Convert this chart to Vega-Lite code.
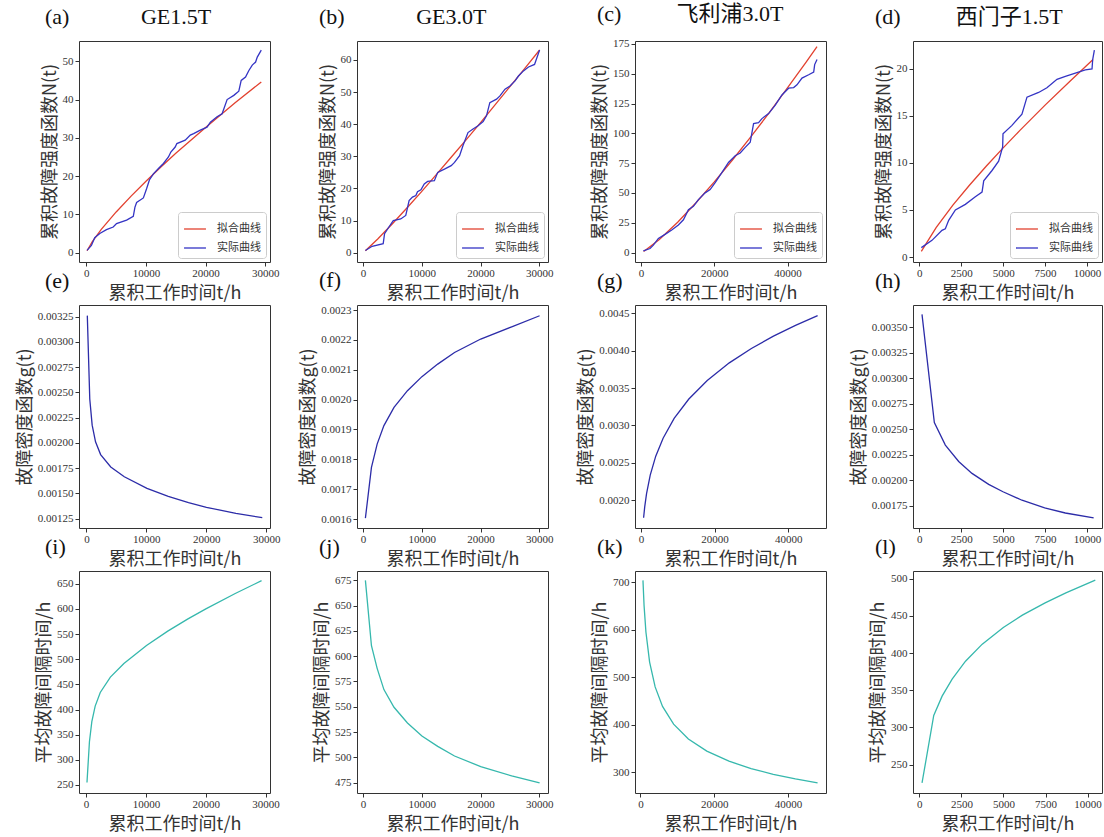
{
  "$schema": "https://vega.github.io/schema/vega-lite/v6.json",
  "background": "white",
  "padding": {"left": 15, "top": 2, "right": 2, "bottom": 2},
  "bounds": "flush",
  "columns": 4,
  "spacing": {"row": 43, "column": 87},
  "resolve": {"scale": {"color": "independent"}, "legend": {"color": "independent"}},
  "config": {
    "view": {"stroke": "#333333", "strokeWidth": 1},
    "axis": {"domain": false, "grid": false, "tickColor": "#333333", "tickSize": 4, "labelFont": "Liberation Serif", "labelFontSize": 11, "labelColor": "#333333", "labelPadding": 2, "titleFont": "Noto Sans CJK SC", "titleFontSize": 18, "titleFontWeight": "normal", "titleColor": "#333333", "titlePadding": 3, "labelFlush": false, "labelOverlap": false},
    "axisX": {"titlePadding": 6, "labelPadding": 1},
    "title": {"font": "Liberation Serif, Noto Sans CJK SC", "fontSize": 22, "fontWeight": "normal", "color": "#111111", "anchor": "start", "frame": "group", "offset": 12, "baseline": "alphabetic"},
    "line": {"strokeWidth": 1.3}
  },
  "datasets": {
    "a": [
      {"t": 112, "N": 0.49, "s": "拟合曲线"}, {"t": 1000, "N": 2.89, "s": "拟合曲线"}, {"t": 2500, "N": 6.07, "s": "拟合曲线"}, {"t": 5000, "N": 10.64, "s": "拟合曲线"}, {"t": 7500, "N": 14.78, "s": "拟合曲线"}, {"t": 10000, "N": 18.66, "s": "拟合曲线"}, {"t": 12500, "N": 22.37, "s": "拟合曲线"}, {"t": 15000, "N": 25.95, "s": "拟合曲线"}, {"t": 20000, "N": 32.7, "s": "拟合曲线"}, {"t": 25000, "N": 39.2, "s": "拟合曲线"}, {"t": 29340, "N": 44.6, "s": "拟合曲线"},
      {"t": 112, "N": 0.6, "s": "实际曲线"}, {"t": 843, "N": 1.9, "s": "实际曲线"}, {"t": 1400, "N": 3.9, "s": "实际曲线"}, {"t": 2250, "N": 5.0, "s": "实际曲线"}, {"t": 3370, "N": 6.0, "s": "实际曲线"}, {"t": 4500, "N": 6.7, "s": "实际曲线"}, {"t": 5060, "N": 7.6, "s": "实际曲线"}, {"t": 6750, "N": 8.5, "s": "实际曲线"}, {"t": 7870, "N": 9.5, "s": "实际曲线"}, {"t": 8150, "N": 11.9, "s": "实际曲线"}, {"t": 8430, "N": 13.1, "s": "实际曲线"}, {"t": 9560, "N": 14.3, "s": "实际曲线"}, {"t": 10100, "N": 16.7, "s": "实际曲线"}, {"t": 10570, "N": 19.0, "s": "实际曲线"}, {"t": 11240, "N": 20.6, "s": "实际曲线"}, {"t": 12090, "N": 22.0, "s": "实际曲线"}, {"t": 12930, "N": 23.3, "s": "实际曲线"}, {"t": 13770, "N": 25.0, "s": "实际曲线"}, {"t": 14170, "N": 26.3, "s": "实际曲线"}, {"t": 14900, "N": 27.6, "s": "实际曲线"}, {"t": 15180, "N": 28.5, "s": "实际曲线"}, {"t": 16580, "N": 29.4, "s": "实际曲线"}, {"t": 17430, "N": 30.7, "s": "实际曲线"}, {"t": 17990, "N": 31.1, "s": "实际曲线"}, {"t": 19110, "N": 32.0, "s": "实际曲线"}, {"t": 20240, "N": 32.8, "s": "实际曲线"}, {"t": 20800, "N": 34.1, "s": "实际曲线"}, {"t": 21920, "N": 35.5, "s": "实际曲线"}, {"t": 22770, "N": 36.3, "s": "实际曲线"}, {"t": 23610, "N": 40.0, "s": "实际曲线"}, {"t": 24730, "N": 41.1, "s": "实际曲线"}, {"t": 25570, "N": 42.2, "s": "实际曲线"}, {"t": 25970, "N": 45.0, "s": "实际曲线"}, {"t": 26700, "N": 45.9, "s": "实际曲线"}, {"t": 27260, "N": 47.6, "s": "实际曲线"}, {"t": 27830, "N": 49.0, "s": "实际曲线"}, {"t": 28390, "N": 49.8, "s": "实际曲线"}, {"t": 28670, "N": 51.1, "s": "实际曲线"}, {"t": 29340, "N": 52.9, "s": "实际曲线"}
    ],
    "b": [
      {"t": 400, "N": 0.58, "s": "拟合曲线"}, {"t": 2500, "N": 4.24, "s": "拟合曲线"}, {"t": 5000, "N": 9.0, "s": "拟合曲线"}, {"t": 7500, "N": 13.97, "s": "拟合曲线"}, {"t": 10000, "N": 19.1, "s": "拟合曲线"}, {"t": 12500, "N": 24.37, "s": "拟合曲线"}, {"t": 15000, "N": 29.7, "s": "拟合曲线"}, {"t": 17500, "N": 35.06, "s": "拟合曲线"}, {"t": 20000, "N": 40.5, "s": "拟合曲线"}, {"t": 22500, "N": 46.07, "s": "拟合曲线"}, {"t": 25000, "N": 51.7, "s": "拟合曲线"}, {"t": 27500, "N": 57.28, "s": "拟合曲线"}, {"t": 30050, "N": 63.1, "s": "拟合曲线"},
      {"t": 400, "N": 0.7, "s": "实际曲线"}, {"t": 1545, "N": 2.0, "s": "实际曲线"}, {"t": 3430, "N": 2.8, "s": "实际曲线"}, {"t": 3660, "N": 5.9, "s": "实际曲线"}, {"t": 4400, "N": 8.0, "s": "实际曲线"}, {"t": 5150, "N": 10.0, "s": "实际曲线"}, {"t": 6410, "N": 10.5, "s": "实际曲线"}, {"t": 7270, "N": 11.6, "s": "实际曲线"}, {"t": 7840, "N": 16.2, "s": "实际曲线"}, {"t": 8410, "N": 17.3, "s": "实际曲线"}, {"t": 8990, "N": 17.8, "s": "实际曲线"}, {"t": 9270, "N": 19.0, "s": "实际曲线"}, {"t": 9850, "N": 19.6, "s": "实际曲线"}, {"t": 10420, "N": 21.4, "s": "实际曲线"}, {"t": 10990, "N": 22.2, "s": "实际曲线"}, {"t": 12140, "N": 22.4, "s": "实际曲线"}, {"t": 12710, "N": 25.0, "s": "实际曲线"}, {"t": 13850, "N": 26.0, "s": "实际曲线"}, {"t": 15000, "N": 27.1, "s": "实际曲线"}, {"t": 15570, "N": 28.1, "s": "实际曲线"}, {"t": 16430, "N": 30.2, "s": "实际曲线"}, {"t": 17000, "N": 33.3, "s": "实际曲线"}, {"t": 17860, "N": 37.4, "s": "实际曲线"}, {"t": 18720, "N": 38.5, "s": "实际曲线"}, {"t": 19580, "N": 39.5, "s": "实际曲线"}, {"t": 20440, "N": 40.8, "s": "实际曲线"}, {"t": 21010, "N": 42.6, "s": "实际曲线"}, {"t": 21580, "N": 46.7, "s": "实际曲线"}, {"t": 22720, "N": 47.8, "s": "实际曲线"}, {"t": 23300, "N": 48.8, "s": "实际曲线"}, {"t": 24160, "N": 50.9, "s": "实际曲线"}, {"t": 25010, "N": 51.9, "s": "实际曲线"}, {"t": 25870, "N": 53.5, "s": "实际曲线"}, {"t": 26450, "N": 55.0, "s": "实际曲线"}, {"t": 27300, "N": 56.6, "s": "实际曲线"}, {"t": 28160, "N": 57.8, "s": "实际曲线"}, {"t": 29190, "N": 58.6, "s": "实际曲线"}, {"t": 30050, "N": 63.1, "s": "实际曲线"}
    ],
    "c": [
      {"t": 700, "N": 0.99, "s": "拟合曲线"}, {"t": 1000, "N": 1.54, "s": "拟合曲线"}, {"t": 5000, "N": 10.9, "s": "拟合曲线"}, {"t": 10000, "N": 25.5, "s": "拟合曲线"}, {"t": 15000, "N": 41.8, "s": "拟合曲线"}, {"t": 20000, "N": 59.3, "s": "拟合曲线"}, {"t": 25000, "N": 77.9, "s": "拟合曲线"}, {"t": 30000, "N": 97.3, "s": "拟合曲线"}, {"t": 35000, "N": 117.4, "s": "拟合曲线"}, {"t": 40000, "N": 138.3, "s": "拟合曲线"}, {"t": 45000, "N": 159.5, "s": "拟合曲线"}, {"t": 48020, "N": 172.7, "s": "拟合曲线"},
      {"t": 640, "N": 1.4, "s": "实际曲线"}, {"t": 2460, "N": 3.4, "s": "实际曲线"}, {"t": 3370, "N": 6.2, "s": "实际曲线"}, {"t": 4740, "N": 11.9, "s": "实际曲线"}, {"t": 6560, "N": 15.3, "s": "实际曲线"}, {"t": 8380, "N": 19.0, "s": "实际曲线"}, {"t": 10200, "N": 23.2, "s": "实际曲线"}, {"t": 11570, "N": 27.5, "s": "实际曲线"}, {"t": 12940, "N": 36.0, "s": "实际曲线"}, {"t": 14300, "N": 38.8, "s": "实际曲线"}, {"t": 15670, "N": 44.4, "s": "实际曲线"}, {"t": 17490, "N": 50.1, "s": "实际曲线"}, {"t": 18860, "N": 52.9, "s": "实际曲线"}, {"t": 20230, "N": 58.6, "s": "实际曲线"}, {"t": 22050, "N": 67.1, "s": "实际曲线"}, {"t": 23870, "N": 75.6, "s": "实际曲线"}, {"t": 25700, "N": 81.3, "s": "实际曲线"}, {"t": 27060, "N": 83.5, "s": "实际曲线"}, {"t": 28430, "N": 88.3, "s": "实际曲线"}, {"t": 29800, "N": 92.6, "s": "实际曲线"}, {"t": 30710, "N": 108.2, "s": "实际曲线"}, {"t": 32070, "N": 109.0, "s": "实际曲线"}, {"t": 32990, "N": 112.4, "s": "实际曲线"}, {"t": 34810, "N": 116.6, "s": "实际曲线"}, {"t": 36630, "N": 123.7, "s": "实际曲线"}, {"t": 38450, "N": 132.2, "s": "实际曲线"}, {"t": 40270, "N": 137.9, "s": "实际曲线"}, {"t": 41640, "N": 138.4, "s": "实际曲线"}, {"t": 42550, "N": 140.7, "s": "实际曲线"}, {"t": 43920, "N": 146.4, "s": "实际曲线"}, {"t": 45740, "N": 149.2, "s": "实际曲线"}, {"t": 47110, "N": 151.5, "s": "实际曲线"}, {"t": 47380, "N": 157.7, "s": "实际曲线"}, {"t": 48020, "N": 162.0, "s": "实际曲线"}
    ],
    "d": [
      {"t": 119, "N": 0.6, "s": "拟合曲线"}, {"t": 1000, "N": 3.13, "s": "拟合曲线"}, {"t": 2000, "N": 5.51, "s": "拟合曲线"}, {"t": 3000, "N": 7.66, "s": "拟合曲线"}, {"t": 4000, "N": 9.68, "s": "拟合曲线"}, {"t": 5000, "N": 11.6, "s": "拟合曲线"}, {"t": 6000, "N": 13.47, "s": "拟合曲线"}, {"t": 7500, "N": 16.15, "s": "拟合曲线"}, {"t": 9000, "N": 18.72, "s": "拟合曲线"}, {"t": 10360, "N": 21.0, "s": "拟合曲线"},
      {"t": 119, "N": 1.0, "s": "实际曲线"}, {"t": 755, "N": 1.77, "s": "实际曲线"}, {"t": 1350, "N": 2.83, "s": "实际曲线"}, {"t": 1550, "N": 3.0, "s": "实际曲线"}, {"t": 1750, "N": 3.9, "s": "实际曲线"}, {"t": 2150, "N": 5.0, "s": "实际曲线"}, {"t": 2745, "N": 5.6, "s": "实际曲线"}, {"t": 3340, "N": 6.4, "s": "实际曲线"}, {"t": 3740, "N": 6.9, "s": "实际曲线"}, {"t": 3840, "N": 8.1, "s": "实际曲线"}, {"t": 4335, "N": 9.2, "s": "实际曲线"}, {"t": 4730, "N": 10.2, "s": "实际曲线"}, {"t": 4970, "N": 11.7, "s": "实际曲线"}, {"t": 4990, "N": 13.1, "s": "实际曲线"}, {"t": 5525, "N": 14.0, "s": "实际曲线"}, {"t": 6120, "N": 15.2, "s": "实际曲线"}, {"t": 6420, "N": 17.0, "s": "实际曲线"}, {"t": 7115, "N": 17.5, "s": "实际曲线"}, {"t": 7610, "N": 18.0, "s": "实际曲线"}, {"t": 8210, "N": 18.9, "s": "实际曲线"}, {"t": 8710, "N": 19.2, "s": "实际曲线"}, {"t": 9900, "N": 19.9, "s": "实际曲线"}, {"t": 10300, "N": 20.0, "s": "实际曲线"}, {"t": 10340, "N": 21.0, "s": "实际曲线"}, {"t": 10440, "N": 22.0, "s": "实际曲线"}
    ],
    "e": [
      {"t": 150, "g": 0.00326}, {"t": 560, "g": 0.002435}, {"t": 960, "g": 0.002176}, {"t": 1520, "g": 0.002011}, {"t": 2370, "g": 0.001885}, {"t": 4060, "g": 0.001762}, {"t": 6320, "g": 0.001665}, {"t": 10100, "g": 0.001551}, {"t": 13650, "g": 0.001472}, {"t": 17030, "g": 0.00141}, {"t": 20020, "g": 0.001363}, {"t": 24930, "g": 0.001302}, {"t": 29330, "g": 0.00126}
    ],
    "f": [
      {"t": 400, "g": 0.001603}, {"t": 1430, "g": 0.001773}, {"t": 2400, "g": 0.001851}, {"t": 3550, "g": 0.001913}, {"t": 5270, "g": 0.001974}, {"t": 7560, "g": 0.00203}, {"t": 10020, "g": 0.002077}, {"t": 12710, "g": 0.002119}, {"t": 15570, "g": 0.002158}, {"t": 20030, "g": 0.002203}, {"t": 25300, "g": 0.002244}, {"t": 30050, "g": 0.002281}
    ],
    "g": [
      {"t": 700, "g": 0.001763}, {"t": 1000, "g": 0.001907}, {"t": 1500, "g": 0.002085}, {"t": 2500, "g": 0.002333}, {"t": 4000, "g": 0.002587}, {"t": 6000, "g": 0.002828}, {"t": 9000, "g": 0.003092}, {"t": 13000, "g": 0.003353}, {"t": 18000, "g": 0.003601}, {"t": 24000, "g": 0.003837}, {"t": 30000, "g": 0.00403}, {"t": 36000, "g": 0.004195}, {"t": 42000, "g": 0.00434}, {"t": 48010, "g": 0.004469}
    ],
    "h": [
      {"t": 159, "g": 0.003625}, {"t": 895, "g": 0.002566}, {"t": 1551, "g": 0.002345}, {"t": 2346, "g": 0.002185}, {"t": 3141, "g": 0.002068}, {"t": 4135, "g": 0.00196}, {"t": 4990, "g": 0.001888}, {"t": 6123, "g": 0.001805}, {"t": 7475, "g": 0.00173}, {"t": 8708, "g": 0.00168}, {"t": 10397, "g": 0.001632}
    ],
    "i": [
      {"t": 150, "m": 255}, {"t": 560, "m": 336}, {"t": 960, "m": 376}, {"t": 1520, "m": 406.7}, {"t": 2370, "m": 433.9}, {"t": 4060, "m": 464.3}, {"t": 6320, "m": 491.4}, {"t": 10100, "m": 527.3}, {"t": 13650, "m": 555.7}, {"t": 17030, "m": 580}, {"t": 20020, "m": 600}, {"t": 24930, "m": 630.5}, {"t": 29330, "m": 656}
    ],
    "j": [
      {"t": 400, "m": 675}, {"t": 1430, "m": 610.4}, {"t": 2400, "m": 588}, {"t": 3550, "m": 567}, {"t": 5270, "m": 549.5}, {"t": 7560, "m": 534}, {"t": 10020, "m": 521}, {"t": 12710, "m": 510.8}, {"t": 15570, "m": 501.3}, {"t": 20030, "m": 490.8}, {"t": 25300, "m": 481.6}, {"t": 30050, "m": 474.7}
    ],
    "k": [
      {"t": 700, "m": 703.5}, {"t": 1000, "m": 650.4}, {"t": 1500, "m": 594.9}, {"t": 2500, "m": 531.6}, {"t": 4000, "m": 479.4}, {"t": 6000, "m": 438.5}, {"t": 9000, "m": 401.1}, {"t": 13000, "m": 369.9}, {"t": 18000, "m": 344.4}, {"t": 24000, "m": 323.2}, {"t": 30000, "m": 307.8}, {"t": 36000, "m": 295.7}, {"t": 42000, "m": 285.8}, {"t": 48010, "m": 277.5}
    ],
    "l": [
      {"t": 159, "m": 225.2}, {"t": 855, "m": 316}, {"t": 1352, "m": 342}, {"t": 1948, "m": 365}, {"t": 2743, "m": 389}, {"t": 3737, "m": 412}, {"t": 4990, "m": 434.5}, {"t": 6123, "m": 451}, {"t": 7475, "m": 467.5}, {"t": 8708, "m": 481}, {"t": 10457, "m": 498.2}
    ]
  },
  "concat": [
    {
      "width": 191, "height": 221,
      "title": {"text": "(a)\u00a0\u00a0\u00a0\u00a0\u00a0\u00a0\u00a0\u00a0\u00a0\u00a0\u00a0\u00a0\u00a0GE1.5T", "dx": -34},
      "data": {"name": "a"},
      "mark": {"type": "line", "clip": true},
      "encoding": {
        "x": {"field": "t", "type": "quantitative", "scale": {"domain": [-1237, 30803], "nice": false, "zero": false}, "axis": {"values": [0, 10000, 20000, 30000], "format": "d", "title": "累积工作时间t/h"}},
        "y": {"field": "N", "type": "quantitative", "scale": {"domain": [-2.44, 55.3], "nice": false, "zero": false}, "axis": {"values": [0, 10, 20, 30, 40, 50], "format": "d", "title": "累积故障强度函数N(t)"}},
        "color": {"field": "s", "type": "nominal", "sort": ["拟合曲线", "实际曲线"], "scale": {"domain": ["拟合曲线", "实际曲线"], "range": ["#e2412f", "#3434c4"]}, "legend": {"title": null, "orient": "bottom-right", "offset": 4, "strokeColor": "#cccccc", "fillColor": "#ffffff", "padding": 5, "cornerRadius": 3, "labelFont": "Noto Sans CJK SC", "labelFontSize": 11, "labelColor": "#333333", "symbolType": "stroke", "symbolSize": 480, "symbolStrokeWidth": 1.5, "rowPadding": 2, "labelOffset": 10}}
      }
    },
    {
      "width": 191, "height": 221,
      "title": {"text": "(b)\u00a0\u00a0\u00a0\u00a0\u00a0\u00a0\u00a0\u00a0\u00a0\u00a0\u00a0\u00a0\u00a0GE3.0T", "dx": -38},
      "data": {"name": "b"},
      "mark": {"type": "line", "clip": true},
      "encoding": {
        "x": {"field": "t", "type": "quantitative", "scale": {"domain": [-1030, 31480], "nice": false, "zero": false}, "axis": {"values": [0, 10000, 20000, 30000], "format": "d", "title": "累积工作时间t/h"}},
        "y": {"field": "N", "type": "quantitative", "scale": {"domain": [-2.9, 65.9], "nice": false, "zero": false}, "axis": {"values": [0, 10, 20, 30, 40, 50, 60], "format": "d", "title": "累积故障强度函数N(t)"}},
        "color": {"field": "s", "type": "nominal", "sort": ["拟合曲线", "实际曲线"], "scale": {"domain": ["拟合曲线", "实际曲线"], "range": ["#e2412f", "#3434c4"]}, "legend": {"title": null, "orient": "bottom-right", "offset": 4, "strokeColor": "#cccccc", "fillColor": "#ffffff", "padding": 5, "cornerRadius": 3, "labelFont": "Noto Sans CJK SC", "labelFontSize": 11, "labelColor": "#333333", "symbolType": "stroke", "symbolSize": 480, "symbolStrokeWidth": 1.5, "rowPadding": 2, "labelOffset": 10}}
      }
    },
    {
      "width": 191, "height": 221,
      "title": {"text": "(c)\u00a0\u00a0\u00a0\u00a0\u00a0\u00a0\u00a0\u00a0\u00a0\u00a0飞利浦3.0T", "dx": -38},
      "data": {"name": "c"},
      "mark": {"type": "line", "clip": true},
      "encoding": {
        "x": {"field": "t", "type": "quantitative", "scale": {"domain": [-1640, 50470], "nice": false, "zero": false}, "axis": {"values": [0, 20000, 40000], "format": "d", "title": "累积工作时间t/h"}},
        "y": {"field": "N", "type": "quantitative", "scale": {"domain": [-7.9, 177.5], "nice": false, "zero": false}, "axis": {"values": [0, 25, 50, 75, 100, 125, 150, 175], "format": "d", "title": "累积故障强度函数N(t)"}},
        "color": {"field": "s", "type": "nominal", "sort": ["拟合曲线", "实际曲线"], "scale": {"domain": ["拟合曲线", "实际曲线"], "range": ["#e2412f", "#3434c4"]}, "legend": {"title": null, "orient": "bottom-right", "offset": 4, "strokeColor": "#cccccc", "fillColor": "#ffffff", "padding": 5, "cornerRadius": 3, "labelFont": "Noto Sans CJK SC", "labelFontSize": 11, "labelColor": "#333333", "symbolType": "stroke", "symbolSize": 480, "symbolStrokeWidth": 1.5, "rowPadding": 2, "labelOffset": 10}}
      }
    },
    {
      "width": 189, "height": 221,
      "title": {"text": "(d)\u00a0\u00a0\u00a0\u00a0\u00a0\u00a0\u00a0\u00a0\u00a0\u00a0西门子1.5T", "dx": -38},
      "data": {"name": "d"},
      "mark": {"type": "line", "clip": true},
      "encoding": {
        "x": {"field": "t", "type": "quantitative", "scale": {"domain": [-378, 10895], "nice": false, "zero": false}, "axis": {"values": [0, 2500, 5000, 7500, 10000], "format": "d", "title": "累积工作时间t/h"}},
        "y": {"field": "N", "type": "quantitative", "scale": {"domain": [-0.53, 22.97], "nice": false, "zero": false}, "axis": {"values": [0, 5, 10, 15, 20], "format": "d", "title": "累积故障强度函数N(t)"}},
        "color": {"field": "s", "type": "nominal", "sort": ["拟合曲线", "实际曲线"], "scale": {"domain": ["拟合曲线", "实际曲线"], "range": ["#e2412f", "#3434c4"]}, "legend": {"title": null, "orient": "bottom-right", "offset": 4, "strokeColor": "#cccccc", "fillColor": "#ffffff", "padding": 5, "cornerRadius": 3, "labelFont": "Noto Sans CJK SC", "labelFontSize": 11, "labelColor": "#333333", "symbolType": "stroke", "symbolSize": 480, "symbolStrokeWidth": 1.5, "rowPadding": 2, "labelOffset": 10}}
      }
    },
    {
      "width": 191, "height": 223,
      "title": {"text": "(e)", "dx": -34},
      "data": {"name": "e"},
      "mark": {"type": "line", "clip": true, "color": "#2c2ca8"},
      "encoding": {
        "x": {"field": "t", "type": "quantitative", "scale": {"domain": [-1236, 30620], "nice": false, "zero": false}, "axis": {"values": [0, 10000, 20000, 30000], "format": "d", "title": "累积工作时间t/h"}},
        "y": {"field": "g", "type": "quantitative", "scale": {"domain": [0.001158, 0.003365], "nice": false, "zero": false}, "axis": {"values": [0.00125, 0.0015, 0.00175, 0.002, 0.00225, 0.0025, 0.00275, 0.003, 0.00325], "format": ".5f", "title": "故障密度函数g(t)"}}
      }
    },
    {
      "width": 191, "height": 223,
      "title": {"text": "(f)", "dx": -38},
      "data": {"name": "f"},
      "mark": {"type": "line", "clip": true, "color": "#2c2ca8"},
      "encoding": {
        "x": {"field": "t", "type": "quantitative", "scale": {"domain": [-1030, 31480], "nice": false, "zero": false}, "axis": {"values": [0, 10000, 20000, 30000], "format": "d", "title": "累积工作时间t/h"}},
        "y": {"field": "g", "type": "quantitative", "scale": {"domain": [0.00157, 0.002317], "nice": false, "zero": false}, "axis": {"values": [0.0016, 0.0017, 0.0018, 0.0019, 0.002, 0.0021, 0.0022, 0.0023], "format": ".4f", "title": "故障密度函数g(t)"}}
      }
    },
    {
      "width": 191, "height": 223,
      "title": {"text": "(g)", "dx": -38},
      "data": {"name": "g"},
      "mark": {"type": "line", "clip": true, "color": "#2c2ca8"},
      "encoding": {
        "x": {"field": "t", "type": "quantitative", "scale": {"domain": [-1640, 50290], "nice": false, "zero": false}, "axis": {"values": [0, 20000, 40000], "format": "d", "title": "累积工作时间t/h"}},
        "y": {"field": "g", "type": "quantitative", "scale": {"domain": [0.001625, 0.004612], "nice": false, "zero": false}, "axis": {"values": [0.002, 0.0025, 0.003, 0.0035, 0.004, 0.0045], "format": ".4f", "title": "故障密度函数g(t)"}}
      }
    },
    {
      "width": 189, "height": 223,
      "title": {"text": "(h)", "dx": -38},
      "data": {"name": "h"},
      "mark": {"type": "line", "clip": true, "color": "#2c2ca8"},
      "encoding": {
        "x": {"field": "t", "type": "quantitative", "scale": {"domain": [-378, 10895], "nice": false, "zero": false}, "axis": {"values": [0, 2500, 5000, 7500, 10000], "format": "d", "title": "累积工作时间t/h"}},
        "y": {"field": "g", "type": "quantitative", "scale": {"domain": [0.001533, 0.003717], "nice": false, "zero": false}, "axis": {"values": [0.00175, 0.002, 0.00225, 0.0025, 0.00275, 0.003, 0.00325, 0.0035], "format": ".5f", "title": "故障密度函数g(t)"}}
      }
    },
    {
      "width": 191, "height": 222,
      "title": {"text": "(i)", "dx": -34},
      "data": {"name": "i"},
      "mark": {"type": "line", "clip": true, "color": "#36b8ad"},
      "encoding": {
        "x": {"field": "t", "type": "quantitative", "scale": {"domain": [-1184, 30740], "nice": false, "zero": false}, "axis": {"values": [0, 10000, 20000, 30000], "format": "d", "title": "累积工作时间t/h"}},
        "y": {"field": "m", "type": "quantitative", "scale": {"domain": [234.1, 675.2], "nice": false, "zero": false}, "axis": {"values": [250, 300, 350, 400, 450, 500, 550, 600, 650], "format": "d", "title": "平均故障间隔时间/h"}}
      }
    },
    {
      "width": 191, "height": 222,
      "title": {"text": "(j)", "dx": -38},
      "data": {"name": "j"},
      "mark": {"type": "line", "clip": true, "color": "#36b8ad"},
      "encoding": {
        "x": {"field": "t", "type": "quantitative", "scale": {"domain": [-1030, 31480], "nice": false, "zero": false}, "axis": {"values": [0, 10000, 20000, 30000], "format": "d", "title": "累积工作时间t/h"}},
        "y": {"field": "m", "type": "quantitative", "scale": {"domain": [464.7, 684.3], "nice": false, "zero": false}, "axis": {"values": [475, 500, 525, 550, 575, 600, 625, 650, 675], "format": "d", "title": "平均故障间隔时间/h"}}
      }
    },
    {
      "width": 191, "height": 222,
      "title": {"text": "(k)", "dx": -38},
      "data": {"name": "k"},
      "mark": {"type": "line", "clip": true, "color": "#36b8ad"},
      "encoding": {
        "x": {"field": "t", "type": "quantitative", "scale": {"domain": [-1458, 50290], "nice": false, "zero": false}, "axis": {"values": [0, 20000, 40000], "format": "d", "title": "累积工作时间t/h"}},
        "y": {"field": "m", "type": "quantitative", "scale": {"domain": [256.3, 723.2], "nice": false, "zero": false}, "axis": {"values": [300, 400, 500, 600, 700], "format": "d", "title": "平均故障间隔时间/h"}}
      }
    },
    {
      "width": 189, "height": 222,
      "title": {"text": "(l)", "dx": -38},
      "data": {"name": "l"},
      "mark": {"type": "line", "clip": true, "color": "#36b8ad"},
      "encoding": {
        "x": {"field": "t", "type": "quantitative", "scale": {"domain": [-378, 10855], "nice": false, "zero": false}, "axis": {"values": [0, 2500, 5000, 7500, 10000], "format": "d", "title": "累积工作时间t/h"}},
        "y": {"field": "m", "type": "quantitative", "scale": {"domain": [211.7, 510.4], "nice": false, "zero": false}, "axis": {"values": [250, 300, 350, 400, 450, 500], "format": "d", "title": "平均故障间隔时间/h"}}
      }
    }
  ]
}
